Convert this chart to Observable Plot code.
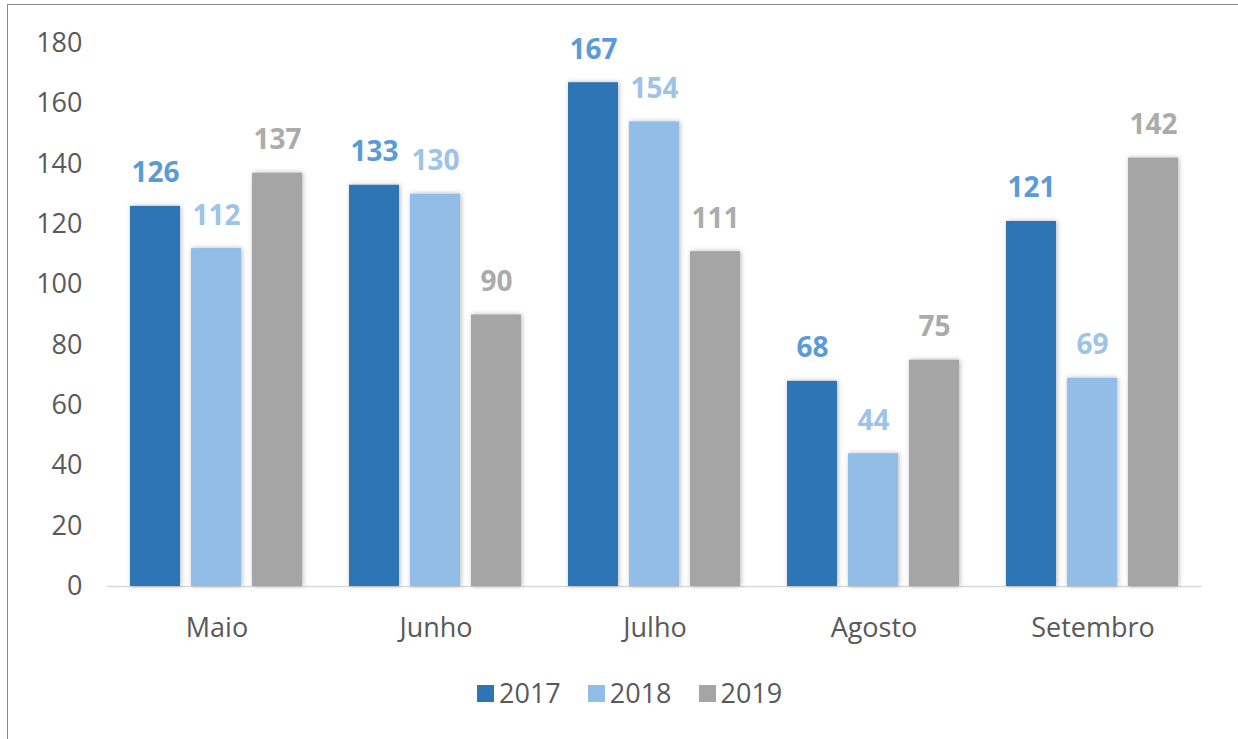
<!DOCTYPE html>
<html>
<head>
<meta charset="utf-8">
<script src="https://cdn.jsdelivr.net/npm/d3@7"></script>
<script src="https://cdn.jsdelivr.net/npm/@observablehq/plot@0.6"></script>
<style>
  html, body { margin: 0; padding: 0; background: #fff; overflow: hidden; }
  body { width: 1238px; height: 739px; position: relative; font-family: "Open Sans", sans-serif; }
  #frame { position: absolute; left: 7px; top: 4px; width: 1300px; height: 800px; border: 1.5px solid #8a8a8a; box-sizing: border-box; }
  #chart { position: absolute; left: 0; top: 0; }
  #chart g[aria-label="bar"] rect { filter: drop-shadow(1px 0px 2.5px rgba(0,0,0,0.28)); }
  #legend { position: absolute; left: 477px; top: 679px; display: flex; align-items: center; font-size: 27px; color: #595959; line-height: 28px; }
  #legend .item { display: flex; align-items: center; margin-right: 27px; }
  #legend .sw { width: 17px; height: 17px; margin-right: 5px; }
</style>
</head>
<body>
<div id="frame"></div>
<div id="chart"></div>
<div id="legend"></div>
<script>
const months = ["Maio", "Junho", "Julho", "Agosto", "Setembro"];
const years = ["2017", "2018", "2019"];
const values2017 = [126, 133, 167, 68, 121];
const values2018 = [112, 130, 154, 44, 69];
const values2019 = [137, 90, 111, 75, 142];
const yTicks = [0, 20, 40, 60, 80, 100, 120, 140, 160, 180];

const barColors = {"2017": "#2e75b6", "2018": "#92bde6", "2019": "#a5a5a5"};
const labelColors = {"2017": "#5b9bd5", "2018": "#9dc3e6", "2019": "#ababab"};

const series = {"2017": values2017, "2018": values2018, "2019": values2019};
const table = [];
years.forEach(yr => months.forEach((m, i) => table.push({month: m, year: yr, value: series[yr][i]})));

const marks = [Plot.ruleY([0], {stroke: "#d9d9d9", strokeWidth: 1.5})];
years.forEach(yr => {
  const rows = table.filter(d => d.year === yr);
  marks.push(Plot.barY(rows, {fx: "month", x: "year", y: "value", fill: barColors[yr]}));
});
years.forEach(yr => {
  const rows = table.filter(d => d.year === yr);
  marks.push(Plot.text(rows, {fx: "month", x: "year", y: "value", text: d => String(d.value),
    dy: -33, fill: labelColors[yr], fontSize: 28, fontWeight: "bold"}));
});

const plot = Plot.plot({
  width: 1238,
  height: 660,
  marginTop: 43,
  marginBottom: 74,
  marginLeft: 105,
  marginRight: 35,
  style: {fontFamily: "Open Sans, sans-serif", fontSize: "27px", color: "#595959", background: "transparent"},
  fx: {domain: months, padding: 0, label: null, axis: "bottom", tickSize: 0, tickPadding: 31},
  x: {domain: years, axis: null, paddingInner: 0.174, paddingOuter: 0.38},
  y: {domain: [0, 180], ticks: yTicks, tickSize: 0, tickPadding: 25, label: null},
  marks
});
document.getElementById("chart").appendChild(plot);

const legend = document.getElementById("legend");
years.forEach(yr => {
  const item = document.createElement("div");
  item.className = "item";
  const sw = document.createElement("div");
  sw.className = "sw";
  sw.style.background = barColors[yr];
  const t = document.createElement("span");
  t.textContent = yr;
  item.appendChild(sw);
  item.appendChild(t);
  legend.appendChild(item);
});
</script>
</body>
</html>
